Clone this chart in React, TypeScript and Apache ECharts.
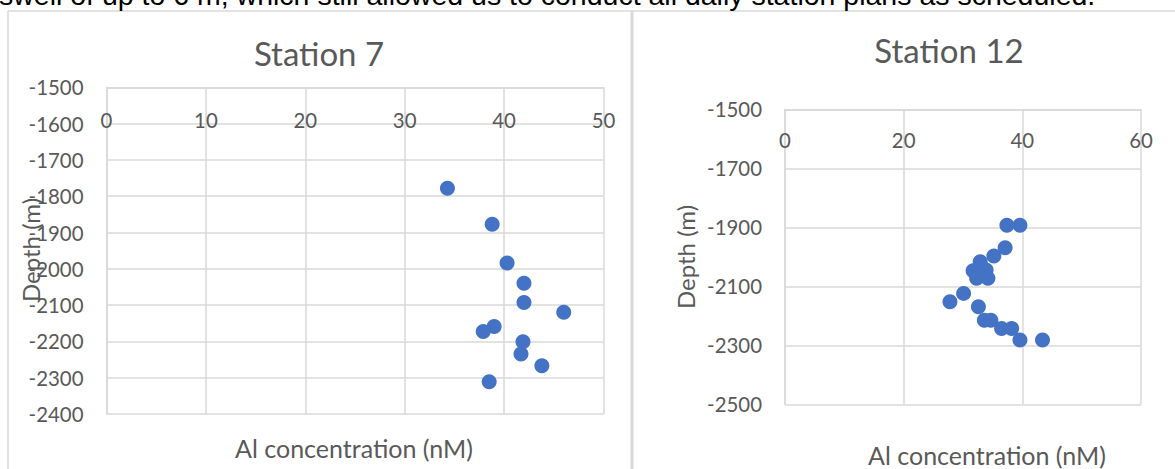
import React, { useEffect, useRef } from "react";
import * as echarts from "echarts";

const st7Al = [34.3, 38.8, 40.3, 42.0, 42.0, 46.0, 39.0, 37.9, 41.9, 41.7, 43.8, 38.5];
const st7Depth = [-1778, -1877, -1984, -2040, -2093, -2120, -2159, -2173, -2201, -2235, -2267, -2311];

const st12Al = [37.4, 39.6, 37.1, 35.2, 32.9, 33.1, 31.7, 33.9, 32.3, 34.2, 30.1, 27.8, 32.6, 33.6, 34.7, 36.5, 38.2, 39.6, 43.4];
const st12Depth = [-1893, -1893, -1969, -1997, -2017, -2034, -2047, -2045, -2073, -2073, -2124, -2152, -2169, -2215, -2215, -2243, -2243, -2282, -2282];

const titles = ["Station 7", "Station 12"];
const xTitle = "Al concentration (nM)";
const yTitle = "Depth (m)";
const topLine = "swell of up to 6 m, which still allowed us to conduct all daily station plans as scheduled.";

const FONT = "Lato";
const TXT = "#595959";
const GRIDC = "#d9d9d9";
const DOT = "#4472C4";

export default function App() {
  const ref = useRef<HTMLDivElement>(null);
  useEffect(() => {
    const chart = echarts.init(ref.current!, null, { renderer: "svg" });
    const xAxisBase = (gi: number, max: number, interval: number, margin: number) => ({
      gridIndex: gi,
      type: "value",
      position: "top",
      min: 0,
      max,
      interval,
      axisLine: { show: true, onZero: false, lineStyle: { color: GRIDC, width: 1.5 } },
      axisTick: { show: false },
      axisLabel: { inside: true, margin, color: TXT, fontSize: 20.4, fontFamily: FONT },
      splitLine: { show: true, lineStyle: { color: GRIDC, width: 1.5 } },
    });
    const yAxisBase = (gi: number, min: number, interval: number) => ({
      gridIndex: gi,
      type: "value",
      min,
      max: -1500,
      interval,
      axisLine: { show: true, onZero: false, lineStyle: { color: GRIDC, width: 1.5 } },
      axisTick: { show: false },
      axisLabel: {
        margin: 23,
        color: TXT,
        fontSize: 20.4,
        fontFamily: FONT,
        formatter: (v: number) => String(v),
      },
      splitLine: { show: true, lineStyle: { color: GRIDC, width: 1.5 } },
    });
    const textEl = (text: string, x: number, y: number, size: number, rot = 0, color = TXT, family = FONT, align = "center") => ({
      type: "text",
      x,
      y,
      rotation: rot,
      style: { text, fontSize: size, fontFamily: family, fill: color, align, verticalAlign: "middle" },
    });
    chart.setOption({
      animation: false,
      backgroundColor: "#ffffff",
      grid: [
        { left: 106.5, top: 87.3, width: 497, height: 326.7 },
        { left: 785, top: 109.3, width: 356, height: 295 },
      ],
      xAxis: [xAxisBase(0, 50, 10, 22.5), xAxisBase(1, 60, 20, 20.5)],
      yAxis: [yAxisBase(0, -2400, 100), yAxisBase(1, -2500, 200)],
      series: [
        {
          type: "scatter",
          xAxisIndex: 0,
          yAxisIndex: 0,
          symbolSize: 15,
          itemStyle: { color: DOT, opacity: 1 },
          data: st7Al.map((v, i) => [v, st7Depth[i]]),
        },
        {
          type: "scatter",
          xAxisIndex: 1,
          yAxisIndex: 1,
          symbolSize: 15,
          itemStyle: { color: DOT, opacity: 1 },
          data: st12Al.map((v, i) => [v, st12Depth[i]]),
        },
      ],
      graphic: [
        { type: "line", shape: { x1: 8, y1: 11, x2: 1175, y2: 11 }, style: { stroke: GRIDC, lineWidth: 1.5 } },
        { type: "line", shape: { x1: 8, y1: 11, x2: 8, y2: 469 }, style: { stroke: GRIDC, lineWidth: 1.5 } },
        { type: "rect", shape: { x: 630.5, y: 11, width: 3, height: 458 }, style: { fill: GRIDC } },
        textEl(topLine, -1, -5, 28.5, 0, "#000000", "Liberation Sans", "left"),
        textEl(titles[0], 319, 53, 33),
        textEl(titles[1], 949, 50, 33),
        textEl(xTitle, 354, 448, 25),
        textEl(xTitle, 987, 455, 25),
        textEl(yTitle, 30, 250, 24, Math.PI / 2),
        textEl(yTitle, 685, 257, 24, Math.PI / 2),
      ],
    });
    return () => chart.dispose();
  }, []);
  return (
    <div
      ref={ref}
      style={{ position: "absolute", left: 0, top: 0, width: 1175, height: 469, background: "#fff" }}
    />
  );
}
